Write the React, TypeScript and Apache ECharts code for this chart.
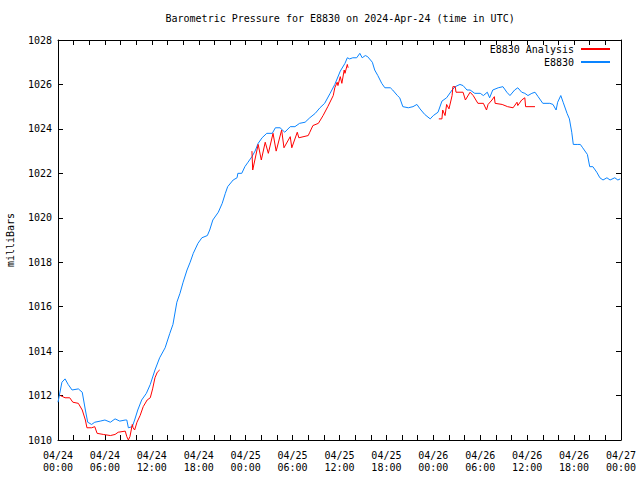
import React, { useEffect, useRef } from "react";
import * as echarts from "echarts";

const titleText = "Barometric Pressure for E8830 on 2024-Apr-24 (time in UTC)";
const yAxisTitle = "milliBars";
const seriesNames = ["E8830 Analysis", "E8830"];

// hours since 2024-04-24 00:00 UTC
const blueHours = [
  0.0, 0.5, 0.9, 1.3, 1.8, 2.6, 3.1, 3.5, 3.8, 4.3, 4.7, 5.4, 6.0, 6.7, 7.3, 7.9, 8.6, 8.8, 9.0, 9.5,
  9.8, 10.2, 10.7, 11.3, 11.8, 12.4, 13.0, 13.7, 14.3, 14.7, 15.2, 15.6, 16.0, 16.5, 16.9, 17.3, 17.9, 18.4, 19.1, 19.4,
  19.8, 20.5, 21.0, 21.4, 21.7, 22.4, 22.9, 23.0, 23.5, 23.9, 24.3, 24.8, 25.2, 25.6, 26.1, 26.7, 27.4, 27.8, 28.4, 29.0,
  29.7, 30.3, 30.9, 31.6, 32.2, 32.9, 33.5, 34.1, 34.8, 35.4, 36.1, 36.7, 37.0, 37.3, 37.7, 38.2, 38.6, 38.9, 39.3, 39.6,
  40.2, 40.5, 40.9, 41.4, 41.8, 42.5, 42.8, 43.4, 43.7, 44.1, 44.8, 45.4, 45.9, 46.3, 46.9, 47.6, 48.0, 48.6, 49.1, 49.7,
  50.4, 50.8, 51.4, 51.8, 52.3, 52.7, 53.3, 54.0, 54.4, 54.9, 55.2, 55.6, 56.3, 56.9, 57.4, 57.8, 58.4, 58.8, 59.3, 59.7,
  60.1, 60.6, 61.0, 61.4, 62.0, 62.9, 63.3, 63.7, 63.9, 64.3, 64.6, 65.1, 65.4, 65.7, 65.9, 66.4, 66.8, 67.1, 67.7, 68.0,
  68.4, 68.9, 69.3, 69.7, 70.2, 70.6, 71.2, 71.6, 71.9,
];
const blueValues = [
  1011.7, 1012.6, 1012.75, 1012.5, 1012.25, 1012.3, 1012.15, 1011.35, 1010.8, 1010.7, 1010.8, 1010.85, 1010.9, 1010.8, 1010.95, 1010.85, 1010.9, 1010.9, 1010.55, 1010.6,
  1010.9, 1011.35, 1011.8, 1012.1, 1012.5, 1013.15, 1013.7, 1014.15, 1014.8, 1015.2, 1016.2, 1016.6, 1017.1, 1017.65, 1018.0, 1018.4, 1018.85, 1019.1, 1019.2, 1019.45,
  1019.9, 1020.25, 1020.65, 1021.1, 1021.4, 1021.7, 1021.8, 1022.0, 1022.0, 1022.3, 1022.5, 1022.75, 1023.0, 1023.35, 1023.6, 1023.8, 1023.8, 1024.05, 1024.05, 1023.85,
  1024.1, 1024.1, 1024.25, 1024.3, 1024.5, 1024.7, 1024.95, 1025.15, 1025.6, 1026.0, 1026.6, 1026.95, 1027.2, 1027.15, 1027.2, 1027.2, 1027.4, 1027.2, 1027.3, 1027.25,
  1027.0, 1026.65, 1026.4, 1026.05, 1025.85, 1025.85, 1025.75, 1025.5, 1025.4, 1025.0, 1024.95, 1025.0, 1025.1, 1024.9, 1024.65, 1024.45, 1024.6, 1024.75, 1025.25, 1025.4,
  1025.75, 1025.9, 1026.0, 1025.95, 1025.75, 1025.75, 1025.6, 1025.6, 1025.5, 1025.65, 1025.4, 1025.75, 1025.85, 1025.9, 1025.65, 1025.5, 1025.75, 1025.85, 1025.65, 1025.6,
  1025.5, 1025.6, 1025.65, 1025.45, 1025.15, 1025.15, 1025.1, 1024.85, 1025.2, 1025.5, 1025.2, 1024.7, 1024.45, 1023.85, 1023.3, 1023.3, 1023.3, 1023.15, 1022.85, 1022.3,
  1022.3, 1022.05, 1021.8, 1021.7, 1021.8, 1021.7, 1021.8, 1021.7, 1021.75,
];

// null marks a gap in the analysis series
const redHours = [
  0.3, 0.9, 1.5, 1.9, 2.6, 3.1, 3.5, 3.7, 4.3, 4.7, 5.0, 5.8, 6.7, 7.3, 7.7, 8.6, 8.8, 9.0, 9.2, 9.5,
  9.6, 9.8, 10.1, 10.5, 10.9, 11.4, 11.8, 12.1, 12.4, 12.7, 13.0, 18.0,
  24.8, 24.9, 25.6, 26.0, 26.5, 26.9, 27.5, 27.9, 28.6, 28.9, 29.7, 29.9, 30.6, 30.8, 32.0, 32.2, 32.6, 33.3,
  33.9, 34.5, 35.2, 35.4, 35.7, 35.8, 36.1, 36.3, 36.6, 36.7, 37.0, 37.1, 43.0,
  48.7, 49.1, 49.2, 49.5, 49.7, 50.0, 50.4, 50.5, 50.8, 50.9, 51.8, 52.1, 52.7, 53.1, 53.7, 54.4, 54.8, 55.0,
  55.5, 55.8, 55.9, 56.8, 57.5, 58.2, 58.7, 58.8, 59.3, 59.7, 59.8, 61.0,
];
const redValues = [
  1012.0, 1011.9, 1011.9, 1011.7, 1011.65, 1011.35, 1010.9, 1010.55, 1010.55, 1010.6, 1010.3, 1010.25, 1010.2, 1010.25, 1010.35, 1010.4, 1010.15, 1010.0, 1010.15, 1010.7,
  1010.55, 1010.45, 1010.8, 1011.1, 1011.5, 1011.8, 1011.9, 1012.3, 1012.8, 1013.05, 1013.15, null,
  1023.0, 1022.15, 1023.3, 1022.6, 1023.4, 1022.9, 1023.8, 1023.0, 1023.95, 1023.15, 1023.65, 1023.15, 1023.85, 1023.6, 1023.7, 1023.85, 1024.15, 1024.25,
  1024.6, 1025.0, 1025.5, 1025.85, 1026.1, 1025.95, 1026.35, 1026.05, 1026.65, 1026.5, 1026.9, 1026.75, null,
  1024.45, 1024.45, 1024.85, 1024.6, 1025.1, 1024.9, 1025.5, 1025.9, 1025.9, 1025.65, 1025.65, 1025.3, 1025.65, 1025.5, 1025.15, 1025.15, 1024.85, 1025.1,
  1025.3, 1025.45, 1025.15, 1025.1, 1025.0, 1024.95, 1025.2, 1025.05, 1025.3, 1025.4, 1025.0, 1025.0,
];

const FONT = "DejaVu Sans Mono";

function fmtTick(h: number): string {
  const day = 24 + Math.floor(h / 24);
  const hh = Math.round(h % 24);
  return `04/${day}\n${String(hh).padStart(2, "0")}:00`;
}

export default function App() {
  const ref = useRef<HTMLDivElement>(null);
  useEffect(() => {
    if (!ref.current) return;
    const chart = echarts.init(ref.current, null, { renderer: "svg" });
    const red = redHours.map((h, i) => [h, redValues[i] === null ? "-" : redValues[i]]);
    const blue = blueHours.map((h, i) => [h, blueValues[i]]);
    const xCommon = {
      type: "value",
      min: 0,
      max: 72,
      interval: 6,
      axisLine: { show: true, onZero: false, lineStyle: { color: "#000", width: 1 } },
      axisTick: { show: true, inside: true, length: 5, lineStyle: { color: "#000" } },
      minorTick: { show: true, splitNumber: 3, length: 5, lineStyle: { color: "#000" } },
      splitLine: { show: false },
    };
    const yCommon = {
      type: "value",
      min: 1010,
      max: 1028,
      interval: 2,
      axisLine: { show: true, onZero: false, lineStyle: { color: "#000", width: 1 } },
      axisTick: { show: true, inside: true, length: 5, lineStyle: { color: "#000" } },
      splitLine: { show: false },
    };
    chart.setOption({
      animation: false,
      backgroundColor: "#fff",
      grid: { left: 58, right: 19, top: 40, bottom: 40, containLabel: false },
      graphic: [
        {
          type: "text",
          left: 339.5 - 174,
          top: 13,
          style: { text: titleText, font: `10px "${FONT}"`, fill: "#000" },
        },
        {
          type: "text",
          x: 10,
          y: 240,
          rotation: Math.PI / 2,
          style: {
            text: yAxisTitle,
            font: `10px "${FONT}"`,
            fill: "#000",
            align: "center",
            verticalAlign: "middle",
          },
        },
      ],
      legend: {
        orient: "vertical",
        right: 30,
        top: 43,
        padding: 0,
        align: "right",
        itemWidth: 29,
        itemHeight: 2,
        itemGap: 1,
        icon: "rect",
        textStyle: { fontFamily: FONT, fontSize: 10, color: "#000", lineHeight: 12, padding: [0, 2, 0, 0] },
        data: seriesNames,
      },
      xAxis: [
        {
          ...xCommon,
          position: "bottom",
          axisLabel: {
            formatter: fmtTick,
            fontFamily: FONT,
            fontSize: 10,
            color: "#000",
            lineHeight: 12,
            margin: 9,
          },
        },
        { ...xCommon, position: "top", axisLabel: { show: false } },
      ],
      yAxis: [
        {
          ...yCommon,
          position: "left",
          axisLabel: {
            fontFamily: FONT,
            fontSize: 10,
            color: "#000",
            margin: 6,
            formatter: (v: number) => String(v),
          },
        },
        { ...yCommon, position: "right", axisLabel: { show: false } },
      ],
      series: [
        {
          name: seriesNames[0],
          type: "line",
          data: red,
          showSymbol: false,
          connectNulls: false,
          lineStyle: { color: "#ff0000", width: 1 },
          itemStyle: { color: "#ff0000" },
          z: 3,
        },
        {
          name: seriesNames[1],
          type: "line",
          data: blue,
          showSymbol: false,
          lineStyle: { color: "#0a84ff", width: 1 },
          itemStyle: { color: "#0a84ff" },
          z: 2,
        },
      ],
    });
    return () => chart.dispose();
  }, []);
  return (
    <div
      ref={ref}
      style={{ position: "fixed", left: 0, top: 0, width: 640, height: 480 }}
    />
  );
}
